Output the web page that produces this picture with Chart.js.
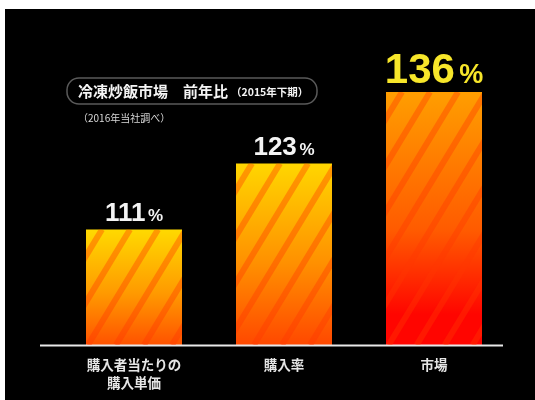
<!DOCTYPE html>
<html>
<head>
<meta charset="utf-8">
<script src="https://cdn.jsdelivr.net/npm/chart.js@4"></script>
<style>
  html, body { margin: 0; padding: 0; background: #fff; }
  #wrap { width: 535px; height: 400px; }
</style>
</head>
<body>
<div id="wrap"><canvas id="c" width="535" height="400"></canvas></div>
<script>
// ---- data ----
const categories = [['購入者当たりの', '購入単価'], '購入率', '市場'];
const values = [111, 123, 136];
const valueSuffix = '%';
const titleMain = '冷凍炒飯市場\u3000前年比';
const titlePeriod = '（2015年下期）';
const subtitle = '（2016年当社調べ）';
const yMin = 90;
const yMax = 150;

// ---- styles ----
const gradTop = ['#ffd900', '#ffd600', '#ff9e00'];
const gradMid = ['#ff9a00', '#ff9000', '#ff5a00'];
const gradBottom = ['#ff5200', '#ff4800', '#ff0500'];
const labelColors = ['#f4f4f4', '#f4f4f4', '#f7e62a'];
const labelSizes = [[26, 17], [26, 17], [42, 27]];
const FONT = '"Liberation Sans", "Noto Sans CJK JP", sans-serif';
const JFONT = '"Noto Sans CJK JP", "Liberation Sans", sans-serif';

const backgroundPlugin = {
  id: 'bg',
  beforeDraw(chart) {
    const c = chart.ctx;
    c.save();
    c.fillStyle = '#ffffff';
    c.fillRect(0, 0, chart.width, chart.height);
    c.fillStyle = '#000000';
    c.fillRect(5, 9, chart.width - 5, chart.height - 9);
    c.restore();
  }
};

const titlePlugin = {
  id: 'titleBox',
  afterDraw(chart) {
    const c = chart.ctx;
    c.save();
    const x = 67, y = 78, w = 250, h = 26, r = 12;
    c.beginPath();
    c.moveTo(x + r, y);
    c.arcTo(x + w, y, x + w, y + h, r);
    c.arcTo(x + w, y + h, x, y + h, r);
    c.arcTo(x, y + h, x, y, r);
    c.arcTo(x, y, x + w, y, r);
    c.closePath();
    c.strokeStyle = '#5a5a5a';
    c.lineWidth = 1.5;
    c.stroke();
    c.fillStyle = '#f4f4f4';
    c.textBaseline = 'alphabetic';
    c.textAlign = 'left';
    c.font = 'bold 15px ' + JFONT;
    c.fillText(titleMain, 78, 97);
    const tw = c.measureText(titleMain).width;
    c.font = 'bold 10.5px ' + JFONT;
    c.fillText(titlePeriod, 78 + tw + 3, 96);
    c.font = '10px ' + JFONT;
    c.fillStyle = '#d8d8d8';
    c.fillText(subtitle, 78, 122);
    c.restore();
  }
};

const barDecorPlugin = {
  id: 'barDecor',
  afterDatasetsDraw(chart) {
    const c = chart.ctx;
    const meta = chart.getDatasetMeta(0);
    const area = chart.chartArea;
    const bottom = chart.scales.y.getPixelForValue(yMin);
    c.save();
    c.strokeStyle = '#e8e8e8';
    c.lineWidth = 2;
    c.beginPath();
    c.moveTo(area.left - 19, bottom + 0.5);
    c.lineTo(area.right - 6, bottom + 0.5);
    c.stroke();
    c.restore();

    meta.data.forEach((bar, i) => {
      const p = bar.getProps(['x', 'y', 'width'], true);
      const left = p.x - p.width / 2;
      const top = p.y;
      const H = bottom - top;
      c.save();
      c.beginPath();
      c.rect(left, top, p.width, H);
      c.clip();
      c.strokeStyle = 'rgba(255,55,0,0.38)';
      c.lineWidth = 6;
      const slope = 1.65;
      const dx = H / slope;
      for (let k = -dx - 40; k < p.width + 40; k += 28) {
        c.beginPath();
        c.moveTo(left + k, bottom);
        c.lineTo(left + k + dx, top);
        c.stroke();
      }
      c.restore();
      c.save();
      const [s1, s2] = labelSizes[i];
      const num = String(values[i]);
      c.font = 'bold ' + s1 + 'px ' + FONT;
      const w1 = c.measureText(num).width;
      c.font = 'bold ' + s2 + 'px ' + FONT;
      const w2 = c.measureText(valueSuffix).width;
      const gap = s1 * 0.1;
      const startX = p.x - (w1 + gap + w2) / 2;
      const baseY = top - 9;
      c.fillStyle = labelColors[i];
      c.textAlign = 'left';
      c.textBaseline = 'alphabetic';
      c.font = 'bold ' + s1 + 'px ' + FONT;
      c.fillText(num, startX, baseY);
      c.font = 'bold ' + s2 + 'px ' + FONT;
      c.fillText(valueSuffix, startX + w1 + gap, baseY);
      c.restore();
    });
  }
};

function barGradient(ctx) {
  const chart = ctx.chart;
  const i = ctx.dataIndex;
  if (!chart.chartArea) return gradTop[i];
  const y = chart.scales.y;
  const top = y.getPixelForValue(values[i]);
  const bottom = y.getPixelForValue(yMin);
  const g = chart.ctx.createLinearGradient(0, top, 0, bottom);
  g.addColorStop(0, gradTop[i]);
  g.addColorStop(0.55, gradMid[i]);
  g.addColorStop(i === 2 ? 0.88 : 1, gradBottom[i]);
  g.addColorStop(1, gradBottom[i]);
  return g;
}

new Chart(document.getElementById('c'), {
  type: 'bar',
  data: {
    labels: categories,
    datasets: [{
      data: values,
      backgroundColor: barGradient,
      borderWidth: 0,
      categoryPercentage: 1,
      barPercentage: 0.64
    }]
  },
  options: {
    responsive: false,
    animation: false,
    devicePixelRatio: 1,
    layout: { padding: { left: 59, right: 26, top: 15, bottom: 9 } },
    plugins: {
      legend: { display: false },
      tooltip: { enabled: false },
      title: { display: false }
    },
    scales: {
      y: {
        display: false,
        min: yMin,
        max: yMax
      },
      x: {
        grid: { display: false, drawTicks: false },
        border: { display: false },
        afterFit(scale) { scale.height = 46; },
        ticks: {
          color: '#e6e6e6',
          padding: 11,
          maxRotation: 0,
          autoSkip: false,
          font: { family: JFONT, size: 13.5, weight: 'bold', lineHeight: 1.35 }
        }
      }
    }
  },
  plugins: [backgroundPlugin, barDecorPlugin, titlePlugin]
});
</script>
</body>
</html>
